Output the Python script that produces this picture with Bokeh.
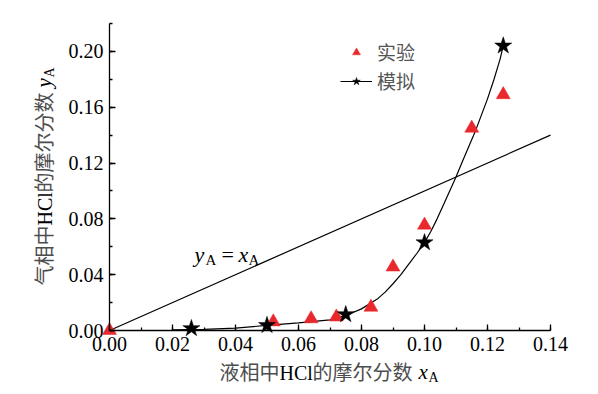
import math
from bokeh.plotting import figure
from bokeh.models import (Range1d, SingleIntervalTicker, PrintfTickFormatter,
                          Label, Legend, LegendItem)
from bokeh.embed import file_html
from bokeh.resources import INLINE

# ---- data ----
exp_x = [0.000, 0.052, 0.064, 0.072, 0.083, 0.090, 0.100, 0.115, 0.125]
exp_y = [0.000, 0.0062, 0.0084, 0.0097, 0.0167, 0.0455, 0.0755, 0.1450, 0.1690]

sim_x = [0.026, 0.050, 0.075, 0.100, 0.125]
sim_y = [0.0015, 0.0037, 0.0115, 0.0630, 0.2040]

curve_x = [0.020, 0.030, 0.040, 0.050, 0.060, 0.070, 0.075, 0.080, 0.085,
           0.0875, 0.090, 0.0925, 0.095, 0.0975, 0.100, 0.102, 0.104, 0.106,
           0.108, 0.110, 0.112, 0.114, 0.116, 0.118, 0.120, 0.122, 0.124, 0.125]
curve_y = [0.0005, 0.0008, 0.0017, 0.0037, 0.0055, 0.0076, 0.0108, 0.0155, 0.0225,
           0.0275, 0.0335, 0.0400, 0.0475, 0.0550, 0.0630, 0.0710, 0.0800, 0.0900,
           0.1000, 0.1100, 0.1210, 0.1315, 0.1420, 0.1540, 0.1660, 0.1795, 0.1945, 0.2040]

diag_x = [0.0, 0.14]
diag_y = [0.0, 0.14]

legend_labels = ["实验", "模拟"]
xlabel_parts = ["液相中", "HCl", "的摩尔分数", "x", "A"]
ylabel_parts = ["气相中", "HCl", "的摩尔分数", "y", "A"]

# axis extents shown in the reference
X_MIN, X_MAX = 0.0, 0.14
Y_MIN, Y_MAX = 0.0, 0.22

W, H = 598, 394
# pixel placement of the axes inside the canvas
AX_LEFT, AX_RIGHT, AX_TOP, AX_BOTTOM = 109, 550, 23, 330

kx = (AX_RIGHT - AX_LEFT) / (X_MAX - X_MIN)
ky = (AX_BOTTOM - AX_TOP) / (Y_MAX - Y_MIN)
XS = X_MIN - AX_LEFT / kx
XE = X_MIN + (W - AX_LEFT) / kx
YS = Y_MIN - (H - AX_BOTTOM) / ky
YE = Y_MIN + AX_BOTTOM / ky

p = figure(width=W, height=H, output_backend="svg", toolbar_location=None,
           x_range=Range1d(XS, XE), y_range=Range1d(YS, YE),
           min_border=0, min_border_left=0, min_border_right=0,
           min_border_top=0, min_border_bottom=0)
p.outline_line_color = None
p.xgrid.grid_line_color = None
p.ygrid.grid_line_color = None
p.background_fill_color = "white"
p.border_fill_color = "white"

axes = ((p.xaxis[0], 0.02, (X_MIN, X_MAX), Y_MIN),
        (p.yaxis[0], 0.04, (Y_MIN, Y_MAX), X_MIN))
for ax, interval, bnds, loc in axes:
    ax.ticker = SingleIntervalTicker(interval=interval, num_minor_ticks=2)
    ax.formatter = PrintfTickFormatter(format="%.2f")
    ax.bounds = bnds
    ax.fixed_location = loc
    ax.major_tick_in = 6
    ax.major_tick_out = 0
    ax.minor_tick_in = 3
    ax.minor_tick_out = 0
    ax.axis_line_width = 1.3
    ax.major_tick_line_width = 1.3
    ax.minor_tick_line_width = 1.3
    ax.axis_line_color = "black"
    ax.major_tick_line_color = "black"
    ax.minor_tick_line_color = "black"
    ax.major_label_text_font = "Liberation Serif"
    ax.major_label_text_font_size = "20px"
    ax.major_label_text_color = "black"
    ax.major_label_standoff = 6
    ax.axis_label = None

red = "#E8282C"

p.line(diag_x, diag_y, line_color="black", line_width=1.2)
curve = p.line(curve_x, curve_y, line_color="black", line_width=1.2)
tri = p.scatter(exp_x, exp_y, marker="triangle", size=14, fill_color=red,
                line_color=red, line_width=0.5)
star = p.scatter(sim_x, sim_y, marker="star", size=18, fill_color="black",
                 line_color="black", line_width=0.5)

legend = Legend(items=[LegendItem(label=legend_labels[0], renderers=[tri]),
                       LegendItem(label=legend_labels[1], renderers=[curve, star])],
                location=(340, H - 94), orientation="vertical")
legend.label_text_font = "Noto Sans CJK SC"
legend.label_text_font_size = "19px"
legend.label_text_color = "#555555"
legend.glyph_width = 32
legend.glyph_height = 20
legend.label_height = 20
legend.spacing = 2
legend.padding = 0
legend.margin = 0
legend.label_standoff = 5
legend.border_line_color = None
legend.background_fill_alpha = 0
p.add_layout(legend)


def dx(px):
    return XS + px / W * (XE - XS)


def dy(py):
    return YE - py / H * (YE - YS)


def txt(px, py, s, font, size, color, style="normal", angle=0.0,
        align="left", baseline="middle"):
    p.add_layout(Label(x=dx(px), y=dy(py), text=s, text_font=font,
                       text_font_size=size, text_color=color,
                       text_font_style=style, angle=angle,
                       text_align=align, text_baseline=baseline))


cjk = "Noto Sans CJK SC"
serif = "Liberation Serif"
grey = "#4d4d4d"

# x axis label
txt(219, 371, xlabel_parts[0], cjk, "20px", grey)
txt(279, 372, xlabel_parts[1], serif, "20px", "black")
txt(312, 371, xlabel_parts[2], cjk, "20px", grey)
txt(418, 371, xlabel_parts[3], serif, "21px", "black", "italic")
txt(428, 377, xlabel_parts[4], serif, "14px", "black")

# y axis label (rotated)
r = math.pi / 2
txt(43, 285, ylabel_parts[0], cjk, "20px", grey, angle=r)
txt(44, 225, ylabel_parts[1], serif, "20px", "black", angle=r)
txt(43, 192, ylabel_parts[2], cjk, "20px", grey, angle=r)
txt(43, 87, ylabel_parts[3], serif, "21px", "black", "italic", angle=r)
txt(49, 77, ylabel_parts[4], serif, "14px", "black", angle=r)

# annotation y_A = x_A
txt(194, 254, "y", serif, "22px", "black", "italic", baseline="alphabetic")
txt(205, 259, "A", serif, "15px", "black", baseline="alphabetic")
txt(221, 254, "=", serif, "22px", "black", baseline="alphabetic")
txt(238, 254, "x", serif, "22px", "black", "italic", baseline="alphabetic")
txt(248, 259, "A", serif, "15px", "black", baseline="alphabetic")

open("out.html", "w").write(file_html(p, INLINE))
